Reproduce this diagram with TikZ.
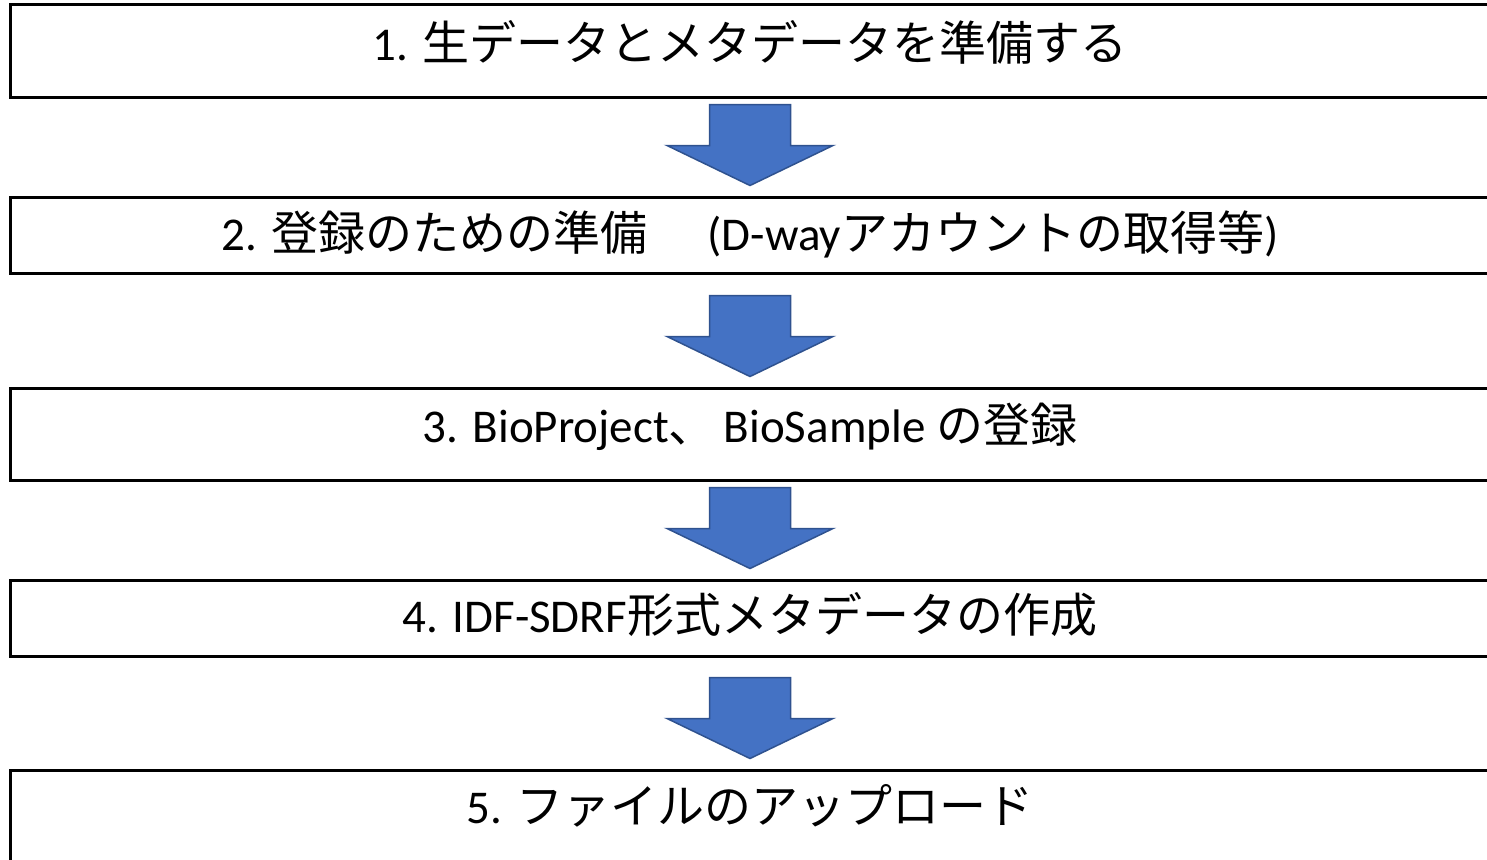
\documentclass[tikz,border=0pt]{standalone}
\usepackage{fontspec}
\setmainfont{Carlito}
\newfontfamily\jp{Noto Sans CJK JP}
\usetikzlibrary{calc}
\definecolor{arrowfill}{HTML}{4472C4}
\definecolor{arrowline}{HTML}{2F528F}
\tikzset{
  stepbox/.style={draw=black, line width=3pt, fill=white, inner sep=0pt,
    minimum width=1480pt},
  steptext/.style={anchor=base, inner sep=0pt,
    font=\fontsize{47}{56}\selectfont},
  blockarrow/.style={fill=arrowfill, draw=arrowline, line width=1.5pt,
    line join=miter},
}
% block arrow pointing at the next box: 81 long, shaft 81 wide, head 166 wide
\newcommand\flowarrow[2]{%
  \draw[blockarrow]
    let \p1=(#1.south), \p2=(#2.north) in
    (\x1-40.5,\y2+91) -- (\x1+40.5,\y2+91) -- (\x1+40.5,\y2+50)
    -- (\x1+83,\y2+50) -- (\x1,\y2+10) -- (\x1-83,\y2+50)
    -- (\x1-40.5,\y2+50) -- cycle;}
\begin{document}
\begin{tikzpicture}[x=1pt,y=-1pt]
  \useasboundingbox (0,0) rectangle (1487,859);
  % the five steps
  \node[stepbox, minimum height=92pt] (b1) at (750,51) {};
  \node[stepbox, minimum height=76pt] (b2) at (750,235) {};
  \node[stepbox, minimum height=92pt] (b3) at (750,434) {};
  \node[stepbox, minimum height=76pt] (b4) at (750,618) {};
  \node[stepbox, minimum height=100pt] (b5) at (750,820) {};
  % labels
  \node[steptext] (t1) at (750,60) {1. {\jp 生データとメタデータを準備する}};
  \node[steptext] (t2) at (750,250) {2. {\jp 登録のための準備}\hspace{60pt}(D-way{\jp アカウントの取得等})};
  \node[steptext] (t3) at (750,442) {3. BioProject{\jp 、}\hspace{8pt}BioSample {\jp の登録}};
  \node[steptext] (t4) at (750,632) {4. IDF-SDRF{\jp 形式メタデータの作成}};
  \node[steptext] (t5) at (750,823) {5. {\jp ファイルのアップロード}};
  % arrows between steps
  \flowarrow{b1}{b2}
  \flowarrow{b2}{b3}
  \flowarrow{b3}{b4}
  \flowarrow{b4}{b5}
\end{tikzpicture}
\end{document}
